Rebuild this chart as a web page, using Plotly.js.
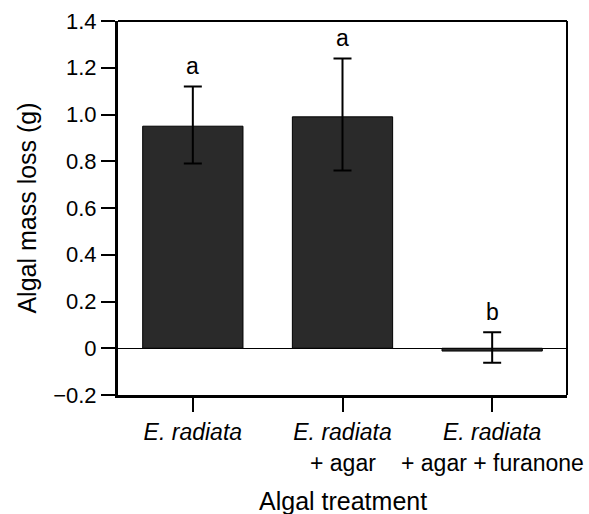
<!DOCTYPE html>
<html>
<head>
<meta charset="utf-8">
<script src="https://cdn.plot.ly/plotly-3.0.1.min.js"></script>
<style>html,body{margin:0;padding:0;background:#fff;}#chart{width:589px;height:514px;}</style>
</head>
<body>
<div id="chart"></div>
<script>
var categories = ["E. radiata", "E. radiata + agar", "E. radiata + agar + furanone"];
var firstLines = ["<i>E. radiata</i>", "<i>E. radiata</i>", "<i>E. radiata</i>"];
var secondLines = ["", "+ agar", "+ agar + furanone"];
var massLoss = [0.95, 0.99, -0.012];
var errPlus = [0.17, 0.25, 0.08];
var errMinus = [0.16, 0.23, 0.05];
var letters = ["a", "a", "b"];
var yTickVals = [-0.2, 0, 0.2, 0.4, 0.6, 0.8, 1.0, 1.2, 1.4];
var yTickText = ["\u22120.2", "0", "0.2", "0.4", "0.6", "0.8", "1.0", "1.2", "1.4"];

var font = "Liberation Sans, Arial, Helvetica, sans-serif";

var trace = {
  type: "bar",
  x: categories,
  y: massLoss,
  width: 0.67,
  marker: {color: "#2a2a2a", line: {color: "#000", width: 1}},
  error_y: {type: "data", symmetric: false, array: errPlus, arrayminus: errMinus,
            color: "#000", thickness: 2, width: 9},
  hoverinfo: "x+y"
};

var annotations = [];
for (var i = 0; i < categories.length; i++) {
  annotations.push({x: categories[i], y: massLoss[i] + errPlus[i], xref: "x", yref: "y",
    text: letters[i], showarrow: false, yanchor: "bottom", yshift: 5,
    font: {family: font, size: 23, color: "#000"}});
  if (secondLines[i]) {
    annotations.push({x: categories[i], y: -0.182, xref: "x", yref: "paper",
      text: secondLines[i], showarrow: false, yanchor: "middle",
      font: {family: font, size: 23, color: "#000"}});
  }
}
annotations.push({x: 0.5, y: -0.283, xref: "paper", yref: "paper", text: "Algal treatment",
  showarrow: false, yanchor: "middle", font: {family: font, size: 25, color: "#000"}});

var layout = {
  width: 589, height: 514,
  margin: {l: 118, r: 22, t: 21, b: 119},
  paper_bgcolor: "#fff", plot_bgcolor: "#fff",
  showlegend: false,
  font: {family: font, color: "#000"},
  xaxis: {
    type: "category", range: [-0.5, 2.5],
    tickvals: categories, ticktext: firstLines,
    ticks: "outside", ticklen: 14, tickwidth: 2, tickcolor: "#000",
    showline: true, linewidth: 3, linecolor: "#000",
    showgrid: false, zeroline: false,
    tickfont: {family: font, size: 23, color: "#000"}
  },
  yaxis: {
    range: [-0.2, 1.4], tickvals: yTickVals, ticktext: yTickText,
    ticks: "outside", ticklen: 14, tickwidth: 2, tickcolor: "#000",
    showline: true, linewidth: 3, linecolor: "#000",
    showgrid: false, zeroline: true, zerolinecolor: "#000", zerolinewidth: 1.5,
    tickfont: {family: font, size: 22, color: "#000"},
    title: {text: "Algal mass loss (g)", font: {family: font, size: 25, color: "#000"}, standoff: 10}
  },
  shapes: [
    {type: "line", xref: "paper", yref: "paper", x0: 0, x1: 1, y0: 1, y1: 1, line: {color: "#000", width: 2}},
    {type: "line", xref: "paper", yref: "paper", x0: 1, x1: 1, y0: 0, y1: 1, line: {color: "#000", width: 2}}
  ],
  annotations: annotations
};

Plotly.newPlot("chart", [trace], layout, {displayModeBar: false, staticPlot: true});
</script>
</body>
</html>
